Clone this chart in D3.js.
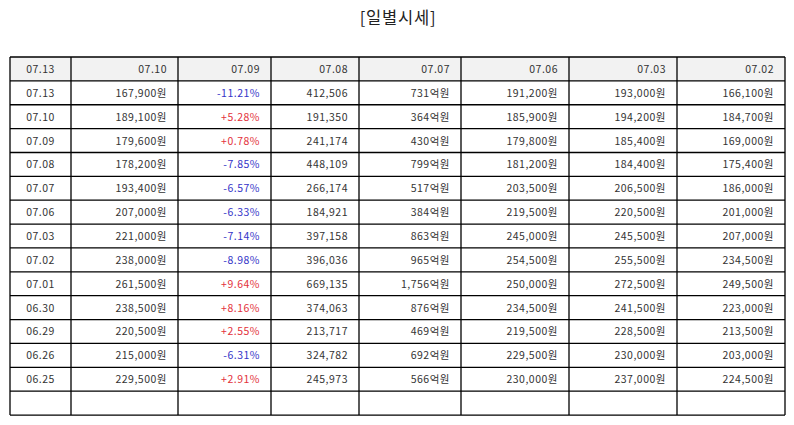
<!DOCTYPE html>
<html>
<head>
<meta charset="utf-8">
<script src="https://cdn.jsdelivr.net/npm/d3@7"></script>
<style>
  body { margin: 0; background: #fff; }
  svg text { font-family: "Noto Sans CJK KR", "Noto Sans", sans-serif; }
</style>
</head>
<body>
<svg id="chart" width="794" height="425"></svg>
<script>
var title = '[일별시세]';
var headers = ['07.13', '07.10', '07.09', '07.08', '07.07', '07.06', '07.03', '07.02'];
var dates = ['07.13', '07.10', '07.09', '07.08', '07.07', '07.06', '07.03', '07.02',
             '07.01', '06.30', '06.29', '06.26', '06.25'];
var closes = ['167,900원', '189,100원', '179,600원', '178,200원', '193,400원', '207,000원', '221,000원',
              '238,000원', '261,500원', '238,500원', '220,500원', '215,000원', '229,500원'];
var changes = [-11.21, 5.28, 0.78, -7.85, -6.57, -6.33, -7.14, -8.98, 9.64, 8.16, 2.55, -6.31, 2.91];
var volumes = ['412,506', '191,350', '241,174', '448,109', '266,174', '184,921', '397,158',
               '396,036', '669,135', '374,063', '213,717', '324,782', '245,973'];
var amounts = ['731억원', '364억원', '430억원', '799억원', '517억원', '384억원', '863억원',
               '965억원', '1,756억원', '876억원', '469억원', '692억원', '566억원'];
var opens = ['191,200원', '185,900원', '179,800원', '181,200원', '203,500원', '219,500원', '245,000원',
             '254,500원', '250,000원', '234,500원', '219,500원', '229,500원', '230,000원'];
var highs = ['193,000원', '194,200원', '185,400원', '184,400원', '206,500원', '220,500원', '245,500원',
             '255,500원', '272,500원', '241,500원', '228,500원', '230,000원', '237,000원'];
var lows = ['166,100원', '184,700원', '169,000원', '175,400원', '186,000원', '201,000원', '207,000원',
            '234,500원', '249,500원', '223,000원', '213,500원', '203,000원', '224,500원'];

var colEdges = [10, 71, 178, 271, 359, 461, 569, 677, 785];
var tableTop = 57, rowH = 23.87;

function fmtChange(v) {
    return (v > 0 ? '+' : '') + v.toFixed(2) + '%';
}

var rows = dates.map(function(d, i) {
    return [
        {text: d},
        {text: closes[i]},
        {text: fmtChange(changes[i]), color: changes[i] < 0 ? '#3434c8' : '#e3313b'},
        {text: volumes[i]},
        {text: amounts[i]},
        {text: opens[i]},
        {text: highs[i]},
        {text: lows[i]}
    ];
});
var allRows = [headers.map(function(h) { return {text: h}; })]
    .concat(rows)
    .concat([headers.map(function() { return {text: ''}; })]);

var svg = d3.select('#chart');

svg.append('text')
    .attr('x', 398).attr('y', 24)
    .attr('text-anchor', 'middle')
    .attr('font-size', 16.5)
    .attr('letter-spacing', 0.8)
    .attr('fill', '#222')
    .text(title);

var y = d3.scaleLinear().domain([0, allRows.length]).range([tableTop, tableTop + rowH * allRows.length]);

svg.append('rect')
    .attr('x', colEdges[0]).attr('y', y(0))
    .attr('width', colEdges[colEdges.length - 1] - colEdges[0])
    .attr('height', y(1) - y(0))
    .attr('fill', '#f2f2f2');

var row = svg.selectAll('g.row')
    .data(allRows)
  .enter().append('g')
    .attr('class', 'row')
    .attr('transform', function(r, i) { return 'translate(0,' + y(i) + ')'; });

row.selectAll('text')
    .data(function(r) { return r; })
  .enter().append('text')
    .attr('x', function(c, j) {
        return j === 0 ? (colEdges[0] + colEdges[1]) / 2 : colEdges[j + 1] - 11;
    })
    .attr('y', rowH / 2 + 4)
    .attr('text-anchor', function(c, j) { return j === 0 ? 'middle' : 'end'; })
    .attr('font-size', 10.5)
    .attr('letter-spacing', 0.5)
    .attr('fill', function(c) { return c.color || '#333'; })
    .text(function(c) { return c.text; });

// grid lines
svg.selectAll('line.h')
    .data(d3.range(allRows.length + 1))
  .enter().append('line')
    .attr('class', 'h')
    .attr('x1', colEdges[0]).attr('x2', colEdges[colEdges.length - 1])
    .attr('y1', function(i) { return y(i); }).attr('y2', function(i) { return y(i); })
    .attr('stroke', '#000').attr('stroke-width', 1.3);

svg.selectAll('line.v')
    .data(colEdges)
  .enter().append('line')
    .attr('class', 'v')
    .attr('x1', function(x) { return x; }).attr('x2', function(x) { return x; })
    .attr('y1', y(0)).attr('y2', y(allRows.length))
    .attr('stroke', '#000').attr('stroke-width', 1.3);
</script>
</body>
</html>
